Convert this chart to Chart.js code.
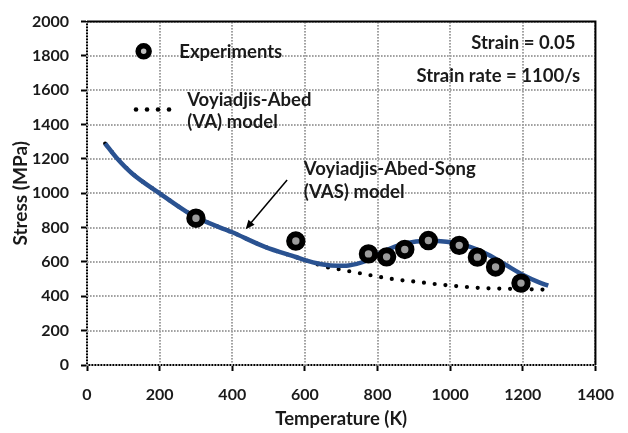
<!DOCTYPE html>
<html>
<head>
<meta charset="utf-8">
<script src="https://cdn.jsdelivr.net/npm/chart.js@4"></script>
<style>
html,body{margin:0;padding:0;background:#fff;}
#wrap{width:628px;height:433px;}
</style>
</head>
<body>
<div id="wrap"><canvas id="c" width="628" height="433"></canvas></div>
<script>
// Experiments (Temperature K, Stress MPa)
const expT = [300, 575, 775, 825, 875, 940, 1025, 1075, 1125, 1195];
const expS = [855, 722, 647, 630, 673, 725, 697, 628, 571, 477];

// Voyiadjis-Abed-Song (VAS) model
const vasT = [50, 80, 125, 200, 265, 300, 400, 490, 575, 610, 650, 690, 720, 760, 810, 875, 940, 990, 1045, 1105, 1150, 1205, 1245, 1270];
const vasS = [1290, 1210, 1114, 1000, 905, 860, 773, 688, 629, 605, 585, 578, 580, 600, 655, 708, 724, 718, 695, 642, 587, 520, 481, 462];

// Voyiadjis-Abed (VA) model
const vaT = [50, 80, 125, 200, 265, 300, 400, 490, 575, 620, 650, 700, 730, 790, 850, 905, 965, 1020, 1080, 1135, 1195, 1255];
const vaS = [1290, 1212, 1115, 1000, 905, 862, 773, 688, 628, 598, 575, 555, 543, 519, 498, 485, 470, 459, 449, 445, 442, 439];

const xTicks = [0, 200, 400, 600, 800, 1000, 1200, 1400];
const yTicks = [0, 200, 400, 600, 800, 1000, 1200, 1400, 1600, 1800, 2000];

const xTitle = 'Temperature (K)';
const yTitle = 'Stress (MPa)';
const legendExp = 'Experiments';
const legendVA = ['Voyiadjis-Abed', '(VA) model'];
const labelVAS = ['Voyiadjis-Abed-Song', '(VAS) model'];
const note1 = 'Strain = 0.05';
const note2 = 'Strain rate = 1100/s';

const toPts = (xs, ys) => xs.map((x, i) => ({x: x, y: ys[i]}));

const FONT = 'Lato';
const TXT = '#1a1a1a';

const overlay = {
  id: 'overlay',
  beforeDatasetsDraw(chart) {
    // dotted grid at the scales' tick values
    const {ctx, chartArea: a, scales: {x, y}} = chart;
    ctx.save();
    ctx.fillStyle = '#a2a2a2';
    xTicks.forEach(v => {
      const p = Math.round(x.getPixelForValue(v)) - 1;
      for (let q = Math.ceil(a.top); q < a.bottom; q += 3) ctx.fillRect(p, q, 2, 1.6);
    });
    yTicks.forEach(v => {
      const p = Math.round(y.getPixelForValue(v)) - 1;
      for (let q = Math.ceil(a.left); q < a.right; q += 3) ctx.fillRect(q, p, 1.6, 2);
    });
    ctx.restore();
  },
  afterDraw(chart) {
    const {ctx, chartArea: a, scales: {x, y}} = chart;
    const px = v => x.getPixelForValue(v);
    const py = v => y.getPixelForValue(v);
    ctx.save();
    // frame top & right
    ctx.strokeStyle = '#000';
    ctx.lineWidth = 2;
    ctx.beginPath();
    ctx.moveTo(a.left, a.top);
    ctx.lineTo(a.right, a.top);
    ctx.lineTo(a.right, a.bottom);
    ctx.stroke();

    ctx.fillStyle = TXT;
    ctx.font = 'bold 18.5px ' + FONT;
    ctx.textBaseline = 'middle';
    ctx.textAlign = 'left';
    // legend: experiments
    ctx.beginPath();
    ctx.arc(px(156), py(1827), 5.5, 0, Math.PI * 2);
    ctx.fillStyle = '#bfbfbf';
    ctx.fill();
    ctx.lineWidth = 5.5;
    ctx.strokeStyle = '#000';
    ctx.stroke();
    ctx.fillStyle = TXT;
    ctx.fillText(legendExp, px(254), py(1825));
    // legend: VA dotted
    ctx.fillStyle = '#000';
    for (let k = 0; k < 4; k++) {
      ctx.beginPath();
      ctx.arc(px(135) + k * 11, py(1488), 2.3, 0, Math.PI * 2);
      ctx.fill();
    }
    ctx.fillStyle = TXT;
    ctx.fillText(legendVA[0], px(276), py(1545));
    ctx.fillText(legendVA[1], px(276), py(1413));
    // notes
    ctx.fillText(note1, px(1058), py(1873));
    ctx.fillText(note2, px(907), py(1682));
    // VAS label
    ctx.fillText(labelVAS[0], px(597), py(1144));
    ctx.fillText(labelVAS[1], px(597), py(1010));
    // arrow
    const x1 = px(551), y1 = py(1078), x2 = px(437), y2 = py(791);
    const ang = Math.atan2(y2 - y1, x2 - x1);
    ctx.strokeStyle = '#000';
    ctx.lineWidth = 1.5;
    ctx.beginPath();
    ctx.moveTo(x1, y1);
    ctx.lineTo(x2 - 6 * Math.cos(ang), y2 - 6 * Math.sin(ang));
    ctx.stroke();
    ctx.beginPath();
    ctx.moveTo(x2, y2);
    ctx.lineTo(x2 - 9 * Math.cos(ang) + 4 * Math.sin(ang), y2 - 9 * Math.sin(ang) - 4 * Math.cos(ang));
    ctx.lineTo(x2 - 9 * Math.cos(ang) - 4 * Math.sin(ang), y2 - 9 * Math.sin(ang) + 4 * Math.cos(ang));
    ctx.closePath();
    ctx.fillStyle = '#000';
    ctx.fill();
    ctx.restore();
  }
};

const gridCfg = {
  drawOnChartArea: false,
  drawTicks: true,
  tickLength: 6,
  tickColor: '#000',
  tickWidth: 2
};
const fmt = v => String(v);

new Chart(document.getElementById('c'), {
  type: 'scatter',
  data: {
    datasets: [
      {
        label: legendExp,
        data: toPts(expT, expS),
        pointRadius: 6.7,
        pointHoverRadius: 6.7,
        pointBorderWidth: 6,
        pointBackgroundColor: '#9c9c9c',
        pointBorderColor: '#000',
        showLine: false
      },
      {
        label: 'VAS',
        data: toPts(vasT, vasS),
        showLine: true,
        borderColor: '#2A5291',
        borderWidth: 4.5,
        pointRadius: 0,
        cubicInterpolationMode: 'monotone',
        fill: false
      },
      {
        label: 'VA',
        data: toPts(vaT, vaS),
        showLine: true,
        borderColor: '#000',
        borderWidth: 4.2,
        borderDash: [0, 10.8],
        borderCapStyle: 'round',
        pointRadius: 0,
        cubicInterpolationMode: 'monotone',
        fill: false
      }
    ]
  },
  options: {
    responsive: false,
    animation: false,
    events: [],
    layout: {padding: {top: 15, right: 30, left: 0, bottom: 0}},
    plugins: {legend: {display: false}, tooltip: {enabled: false}},
    scales: {
      x: {
        type: 'linear',
        min: 0, max: 1400,
        afterBuildTicks: s => { s.ticks = xTicks.map(v => ({value: v})); },
        afterFit: s => { s.height = 68; },
        grid: gridCfg,
        border: {display: true, color: '#000', width: 2},
        ticks: {color: TXT, font: {family: FONT, weight: 'bold', size: 16}, padding: 14, maxRotation: 0, callback: fmt},
        title: {display: true, text: xTitle, color: TXT, font: {family: FONT, weight: 'bold', size: 18.5}, padding: {top: 0, bottom: 3}}
      },
      y: {
        type: 'linear',
        min: 0, max: 2000,
        afterBuildTicks: s => { s.ticks = yTicks.map(v => ({value: v})); },
        afterFit: s => { s.width = 87; },
        grid: gridCfg,
        border: {display: true, color: '#000', width: 2},
        ticks: {color: TXT, font: {family: FONT, weight: 'bold', size: 16}, padding: 12, callback: fmt},
        title: {display: true, text: yTitle, color: TXT, font: {family: FONT, weight: 'bold', size: 19}, padding: {top: 9, bottom: 0}}
      }
    }
  },
  plugins: [overlay]
});
</script>
</body>
</html>
